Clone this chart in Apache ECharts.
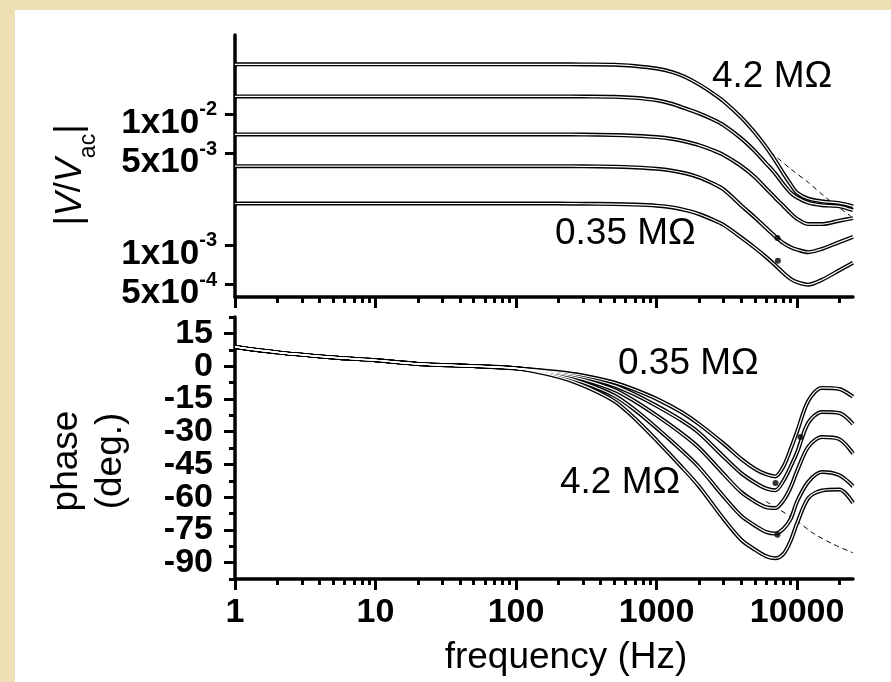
<!DOCTYPE html>
<html><head><meta charset="utf-8">
<script src="https://cdn.jsdelivr.net/npm/echarts@6/dist/echarts.min.js"></script>
<style>
html,body{margin:0;padding:0;background:#efdfb4;}
#c{width:891px;height:682px;}
</style></head><body><div id="c"></div>
<script>
// ---------- data ----------
const freqMag = [1, 10, 100, 200, 300, 500, 700, 1000, 1300, 1600, 2000, 2500, 3000, 4000, 5000, 6000, 7000, 8000, 9000, 10000, 12000, 15000, 20000, 25000];
const mag42  = [0.0239,0.0239,0.0239,0.0239,0.02386,0.02376,0.0232,0.0222,0.0208,0.0191,0.0168,0.0144,0.0125,0.0094,0.0072,0.0056,0.0044,0.0035,0.0029,0.0025,0.00225,0.00215,0.00208,0.00197];
const magB   = [0.0136,0.0136,0.0136,0.0136,0.01357,0.0135,0.01325,0.0127,0.0119,0.0110,0.0101,0.0091,0.0082,0.0065,0.0052,0.0042,0.0035,0.0029,0.0025,0.0023,0.0021,0.00201,0.00197,0.00184];
const magC   = [0.00697,0.00697,0.00697,0.00697,0.00695,0.00689,0.0068,0.00665,0.00643,0.00615,0.00578,0.0053,0.00486,0.0040,0.0033,0.0027,0.00228,0.00198,0.00174,0.00158,0.00144,0.00144,0.00153,0.0016];
const magD   = [0.00399,0.00399,0.00399,0.00399,0.00398,0.00395,0.0039,0.00381,0.00368,0.00352,0.00328,0.00295,0.00265,0.0020,0.00162,0.00135,0.00116,0.00103,0.00096,0.00092,0.00088,0.00093,0.00105,0.00115];
const mag035 = [0.00207,0.00207,0.00207,0.00207,0.00206,0.00205,0.00203,0.00199,0.00193,0.00184,0.00172,0.00156,0.00142,0.00114,0.00095,0.00081,0.0007,0.00061,0.00055,0.00052,0.000497,0.00054,0.00064,0.00073];
const fitMagFreq = [6500, 9000, 12000, 16000, 24000];
const fitMag     = [0.0051, 0.0038, 0.0030, 0.0023, 0.00166];
const dotMagFreq = [7250, 7300];
const dotMag     = [0.00113, 0.000757];

const freqPhase = [1,2,5,10,20,50,100,200,300,500,700,1000,1500,2000,3000,4000,5000,6000,7000,8000,9000,10000,12000,15000,20000,25000];
const ph035 = [8.8,6.3,4,2.7,1,0,-1,-2.7,-4.3,-7.5,-10.8,-15,-21,-26.5,-35.5,-42.5,-47,-49.5,-50.5,-46,-38,-30,-16,-10,-10.5,-14];
const phB   = [8.8,6.3,4,2.7,1,0,-1,-3.1,-5.1,-8.9,-13,-18.2,-24.8,-30.5,-41.5,-49,-53.3,-56,-56.9,-52.5,-46,-39.5,-26,-21,-21.5,-26.5];
const phC   = [8.8,6.3,4,2.7,1,0,-1,-3.6,-6.1,-10.9,-16.1,-22.6,-30.7,-37.3,-49.4,-57.7,-62,-64.6,-65,-61.5,-55.5,-48,-37,-32.5,-33.5,-40];
const phD   = [8.8,6.3,4,2.7,1,0,-1,-4.2,-7.5,-13.5,-20,-28.3,-38.4,-46.2,-59.7,-68.6,-73,-75.9,-76.7,-74.5,-70,-62,-53,-48.5,-50,-55];
const ph42  = [8.8,6.3,4,2.7,1,0,-1,-4.9,-8.8,-16,-24,-34,-46,-55,-70,-79.5,-84,-87,-88,-86,-80,-72,-60.5,-57,-56.5,-62.6];
const fitPhaseFreq = [6000, 7000, 10000, 13000, 18000, 25000];
const fitPhase     = [-62, -64.5, -71, -76.5, -81.5, -85.5];
const dotPhaseFreq = [7020, 7250, 10570];
const dotPhase     = [-53.5, -77.2, -32.5];

const xMajorTicks = [1, 10, 100, 1000, 10000];
const xMinorTicks = [2,3,4,5,6,7,8,9,20,30,40,50,60,70,80,90,200,300,400,500,600,700,800,900,2000,3000,4000,5000,6000,7000,8000,9000,20000];
const magRange = [0.0004, 0.04];
const magTicks = [0.0005, 0.001, 0.005, 0.01];
const phaseRange = [-97.5, 22.5];
const phaseTicks = [-90, -75, -60, -45, -30, -15, 0, 15];
const phaseMinorTicks = [-97.5, -82.5, -67.5, -52.5, -37.5, -22.5, -7.5, 7.5, 22.5];

// ---------- chart ----------
const FONT = 'Liberation Sans';
const BLACK = '#000';
const chart = echarts.init(document.getElementById('c'), null, {renderer: 'canvas'});

function curve(name, xs, ys, xi, yi) {
  const data = xs.map((x, i) => [x, ys[i]]);
  const base = {type: 'line', xAxisIndex: xi, yAxisIndex: yi, data: data, showSymbol: false,
    smooth: 0.3, silent: true, animation: false};
  return [
    Object.assign({name: name, lineStyle: {color: BLACK, width: 4}, z: 3}, base),
    Object.assign({name: name + ' core', lineStyle: {color: '#fff', width: 1.2}, z: 4}, base)
  ];
}
function dashed(name, xs, ys, xi, yi) {
  return {type: 'line', name: name, xAxisIndex: xi, yAxisIndex: yi, data: xs.map((x, i) => [x, ys[i]]),
    showSymbol: false, smooth: 0.3, lineStyle: {color: BLACK, width: 1, type: [5, 4]}, z: 2, silent: true, animation: false};
}
function dots(name, xs, ys, xi, yi) {
  return {type: 'scatter', name: name, xAxisIndex: xi, yAxisIndex: yi, data: xs.map((x, i) => [x, ys[i]]),
    symbolSize: 6, itemStyle: {color: BLACK}, z: 5, silent: true, animation: false};
}

function xMain(gi, labels) {
  return {type: 'log', logBase: 10, gridIndex: gi, min: 1, max: 25000, position: 'bottom',
    axisLine: {show: true, onZero: false, lineStyle: {color: BLACK, width: 3.5}},
    axisTick: {show: true, inside: false, length: 11, customValues: xMajorTicks, lineStyle: {color: BLACK, width: 3}},
    axisLabel: {show: labels, customValues: xMajorTicks, formatter: v => String(Math.round(v)), margin: 17,
      fontSize: 34, fontWeight: 'bold', fontFamily: FONT, color: BLACK, showMinLabel: true, showMaxLabel: true},
    minorTick: {show: false}, splitLine: {show: false},
    name: labels ? 'frequency (Hz)' : '', nameLocation: 'middle', nameGap: 60, nameMoveOverlap: false,
    nameTextStyle: {fontSize: 37, fontFamily: FONT, color: BLACK, padding: [0, 0, 0, 44]}};
}
function xMinor(gi) {
  return {type: 'log', logBase: 10, gridIndex: gi, min: 1, max: 25000, position: 'bottom',
    axisLine: {show: false, onZero: false},
    axisTick: {show: true, inside: false, length: 6, customValues: xMinorTicks, lineStyle: {color: BLACK, width: 3}},
    axisLabel: {show: false}, splitLine: {show: false}};
}

// axis ends are added as blank first/last entries so that the min/max
// label logic only ever hides those blanks, never a real label or tick
const magTickList = [magRange[0]].concat(magTicks, [magRange[1]]);
const phaseTickList = [phaseRange[0]].concat(phaseTicks, [phaseRange[1]]);

function magLabel(v) {
  if (v <= magRange[0] * 1.0001 || v >= magRange[1] * 0.9999) return '';
  const e = Math.floor(Math.log10(v) + 1e-9);
  const m = Math.round(v / Math.pow(10, e));
  return '{m|' + m + 'x10}{s|' + e + '}';
}
function phaseLabel(v) {
  if (v <= phaseRange[0] || v >= phaseRange[1]) return '';
  return String(v);
}

const option = {
  backgroundColor: 'transparent',
  animation: false,
  graphic: [
    {type: 'rect', shape: {x: 15, y: 10, width: 876, height: 672}, style: {fill: '#fff'}, z: -10, silent: true},
    {type: 'text', x: 712, y: 77, style: {text: '4.2 MΩ', fontSize: 37, fontFamily: FONT, fill: BLACK, textAlign: 'left', textVerticalAlign: 'middle'}},
    {type: 'text', x: 555, y: 234, style: {text: '0.35 MΩ', fontSize: 37, fontFamily: FONT, fill: BLACK, textAlign: 'left', textVerticalAlign: 'middle'}},
    {type: 'text', x: 618, y: 364, style: {text: '0.35 MΩ', fontSize: 37, fontFamily: FONT, fill: BLACK, textAlign: 'left', textVerticalAlign: 'middle'}},
    {type: 'text', x: 560, y: 483, style: {text: '4.2 MΩ', fontSize: 37, fontFamily: FONT, fill: BLACK, textAlign: 'left', textVerticalAlign: 'middle'}}
  ],
  grid: [
    {left: 235, right: 38, top: 35, height: 262, containLabel: false},
    {left: 235, right: 38, top: 317, height: 262, containLabel: false}
  ],
  xAxis: [xMain(0, false), xMinor(0), xMain(1, true), xMinor(1)],
  yAxis: [
    {type: 'log', logBase: 10, gridIndex: 0, min: magRange[0], max: magRange[1], position: 'left',
     axisLine: {show: true, onZero: false, lineStyle: {color: BLACK, width: 3.5}},
     axisTick: {show: true, length: 10, customValues: magTickList, lineStyle: {color: BLACK, width: 3}},
     axisLabel: {customValues: magTickList, formatter: magLabel, margin: 18, padding: [18, 0, 0, 0],
       showMinLabel: false, showMaxLabel: false,
       rich: {
         m: {fontSize: 35, fontWeight: 'bold', fontFamily: FONT, color: BLACK},
         s: {fontSize: 20, fontWeight: 'bold', fontFamily: FONT, color: BLACK, padding: [0, 0, 26, 0]}
       }},
     minorTick: {show: false}, splitLine: {show: false},
     name: '{t||}{v|V}{t|/}{v|V}{s|ac}{t||}', nameLocation: 'middle', nameRotate: 90, nameGap: 135, nameMoveOverlap: false,
     nameTextStyle: {padding: [0, 18, 0, 0], rich: {
       t: {fontSize: 36, fontFamily: FONT, color: BLACK},
       v: {fontSize: 36, fontFamily: FONT, fontStyle: 'italic', color: BLACK},
       s: {fontSize: 23, fontFamily: FONT, color: BLACK, padding: [36, 0, 0, 0]}
     }}},
    {type: 'value', gridIndex: 1, min: phaseRange[0], max: phaseRange[1], position: 'left',
     axisLine: {show: true, onZero: false, lineStyle: {color: BLACK, width: 3.5}},
     axisTick: {show: true, length: 11, customValues: phaseTickList, lineStyle: {color: BLACK, width: 3}},
     axisLabel: {customValues: phaseTickList, formatter: phaseLabel, margin: 22, fontSize: 34, fontWeight: 'bold', fontFamily: FONT, color: BLACK,
       showMinLabel: false, showMaxLabel: false},
     splitLine: {show: false},
     name: 'phase\n(deg.)', nameLocation: 'middle', nameRotate: 90, nameGap: 102, nameMoveOverlap: false,
     nameTextStyle: {fontSize: 37, lineHeight: 44, fontFamily: FONT, color: BLACK, padding: [0, 26, 0, 0]}},
    {type: 'value', gridIndex: 1, min: phaseRange[0], max: phaseRange[1], position: 'left',
     axisLine: {show: false, onZero: false},
     axisTick: {show: true, length: 6, customValues: phaseMinorTicks, lineStyle: {color: BLACK, width: 3}},
     axisLabel: {show: false}, splitLine: {show: false}}
  ],
  series: [].concat(
    dashed('fit 4.2 MΩ', fitMagFreq, fitMag, 0, 0),
    curve('4.2 MΩ', freqMag, mag42, 0, 0),
    curve('curve 2', freqMag, magB, 0, 0),
    curve('curve 3', freqMag, magC, 0, 0),
    curve('curve 4', freqMag, magD, 0, 0),
    curve('0.35 MΩ', freqMag, mag035, 0, 0),
    dots('markers |V/Vac|', dotMagFreq, dotMag, 0, 0),
    dashed('fit phase', fitPhaseFreq, fitPhase, 2, 1),
    curve('0.35 MΩ phase', freqPhase, ph035, 2, 1),
    curve('curve 2 phase', freqPhase, phB, 2, 1),
    curve('curve 3 phase', freqPhase, phC, 2, 1),
    curve('curve 4 phase', freqPhase, phD, 2, 1),
    curve('4.2 MΩ phase', freqPhase, ph42, 2, 1),
    dots('markers phase', dotPhaseFreq, dotPhase, 2, 1)
  )
};
chart.setOption(option);
</script></body></html>
